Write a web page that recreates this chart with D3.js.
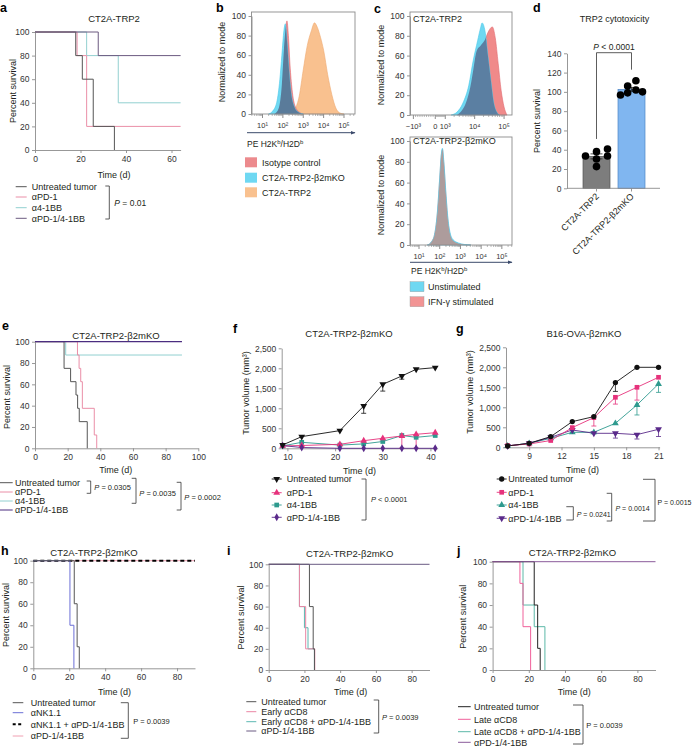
<!DOCTYPE html>
<html><head><meta charset="utf-8">
<script src="https://cdn.jsdelivr.net/npm/d3@7"></script>
<style>
body{margin:0;background:#fff;}
svg{font-family:"Liberation Sans",Arial,sans-serif;}
</style></head><body>
<svg id="chart" width="693" height="747"></svg>
<script>
// ================= DATA =================
const survTicks = [0,20,40,60,80,100];
// Panel a (Kaplan-Meier, CT2A-TRP2)
const aTicksX = [0,20,40,60];
const aUntreated = [[0,100],[17.9,80],[20.8,60],[25.6,20],[34.9,0]];
const aPD1 = [[0,100],[18.5,80],[22.7,20]];
const a41BB = [[0,100],[22.7,80],[36.6,40]];
const aCombo = [[0,100],[27.8,80]];
const treatNames = ["Untreated tumor","αPD-1","α4-1BB","αPD-1/4-1BB"];
// Panel b (flow histogram, log10 of PE intensity, % of mode)
const bTickLabels = ["10¹","10²","10³","10⁴","10⁵"];
const bTickDecades = [1,2,3,4,5];
const bIsotype = [[1.6,0],[1.8,6],[1.95,30],[2.05,65],[2.15,90],[2.2,95],[2.27,80],[2.35,50],[2.45,25],[2.6,8],[2.8,2],[3.0,0]];
const bKO = [[1.3,0],[1.5,3],[1.7,12],[1.85,35],[1.95,60],[2.05,85],[2.12,92],[2.2,75],[2.3,45],[2.4,22],[2.55,8],[2.75,2],[3.0,0]];
const bTRP2 = [[2.4,0],[2.6,5],[2.8,18],[3.0,45],[3.2,70],[3.4,85],[3.55,93],[3.7,88],[3.85,78],[4.0,65],[4.2,40],[4.4,20],[4.6,6],[4.8,1],[5.0,0]];
const bNames = ["Isotype control","CT2A-TRP2-β2mKO","CT2A-TRP2"];
// Panel c
const cTopTickValues = [-1000,0,1000,10000,100000];
const cTopTickLabels = ["−10³","0","10³","10⁴","10⁵"];
const cTopUnstim = [[3.2,0],[3.4,3],[3.6,12],[3.8,30],[3.95,55],[4.1,75],[4.2,88],[4.25,93],[4.35,85],[4.45,60],[4.55,35],[4.65,12],[4.75,3],[4.85,0]];
const cTopIFN = [[3.4,0],[3.55,4],[3.7,12],[3.85,28],[3.95,45],[4.07,65],[4.2,70],[4.35,76],[4.48,85],[4.6,89],[4.7,78],[4.8,52],[4.9,25],[5.0,8],[5.1,0]];
const cBotTickLabels = ["10¹","10²","10³","10⁴","10⁵"];
const cBotTickDecades = [1,2,3,4,5];
const cBotUnstim = [[1.4,0],[1.6,3],[1.75,10],[1.9,35],[2.0,65],[2.08,88],[2.13,93],[2.2,80],[2.3,50],[2.4,25],[2.5,12],[2.65,5],[2.9,2],[3.2,0.5],[3.5,0]];
const cBotIFN = [[1.4,0],[1.6,3],[1.75,10],[1.9,34],[2.0,64],[2.08,87],[2.13,92],[2.2,78],[2.3,48],[2.4,23],[2.5,10],[2.65,4],[2.9,1.5],[3.2,0.3],[3.5,0]];
const cNames = ["Unstimulated","IFN-γ stimulated"];
// Panel d
const dGroups = ["CT2A-TRP2","CT2A-TRP2-β2mKO"];
const dMeans = [33.1,102.6];
const dSEM = [2.6,2.0];
const dPoints1 = [33.5,38,40.8,33.5,30.4,22.5];
const dPoints2 = [96.8,106,111.6,100,99,102];
const dTicks = [0,20,40,60,80,100,120,140];
// Panel e
const eTicksX = [0,20,40,60,80,100];
const eUntreated = [[0,100],[17.8,75],[21.8,62.5],[25.1,50],[26.1,37.5],[27.1,25],[32,0]];
const ePD1 = [[0,100],[26,87.5],[27,75],[28,62.5],[29,37.5],[36.3,12.5],[37.8,0]];
const e41BB = [[0,100],[18.8,87.5]];
const eCombo = [[0,100]];
// Panel f (tumour volume, mm3)
const fDays = [9,13,21,26,30,34,37,41];
const fUntreated = [83,292,442,1058,1600,1808,1975,2017];
const fUntreatedErr = [0,0,0,183,170,80,0,0];
const fPD1 = [60,70,100,190,250,308,350,390];
const fPD1Err = [0,0,0,0,0,300,340,0];
const f41BB = [60,150,80,110,170,320,275,320];
const f41BBErr = [0,0,0,0,0,40,0,0];
const fCombo = [67,20,0,0,0,0,0,0];
const fTicksX = [10,20,30,40];
const volTicks = [0,500,1000,1500,2000,2500];
// Panel g
const gDays = [7,9,11,13,15,17,19,21];
const gUntreated = [33,100,267,642,767,1617,2000,2000];
const gUntreatedErr = [0,0,0,0,0,220,0,0];
const gPD1 = [40,83,170,492,742,1250,1500,1750];
const gPD1Err = [0,0,0,60,210,170,320,0];
const g41BB = [33,100,225,375,375,600,1058,1583];
const g41BBErr = [0,0,0,0,0,0,250,210];
const gCombo = [33,100,250,433,350,350,317,450];
const gComboErr = [0,0,0,0,0,120,110,180];
const gTicksX = [9,12,15,18,21];
// Panel h
const kmTicks90 = [0,20,40,60,80];
const hUntreated = [[0,100],[22.8,60],[24.4,20],[25.6,0]];
const hNK = [[0,100],[20.4,40],[22.6,0]];
const hNKCombo = [[0,100]];
const hCombo = [[0,100]];
const hNames = ["Untreated tumor","αNK1.1","αNK1.1 + αPD-1/4-1BB","αPD-1/4-1BB"];
// Panel i
const iUntreated = [[0,100],[22.8,60],[24.9,20],[25.6,0]];
const iEarlyCD8 = [[0,100],[17.2,60],[20.7,20],[25.8,0]];
const iEarlyCD8Combo = [[0,100],[17.2,60],[20,40],[22,20],[25.6,0]];
const iCombo = [[0,100]];
const iNames = ["Untreated tumor","Early αCD8","Early αCD8 + αPD-1/4-1BB","αPD-1/4-1BB"];
// Panel j
const jUntreated = [[0,100],[23,60],[24.9,20],[26.3,0]];
const jLateCD8 = [[0,100],[15.1,80],[16.8,40],[21,0]];
const jLateCD8Combo = [[0,100],[16.8,60],[23,40],[28.9,0]];
const jCombo = [[0,100]];
const jNames = ["Untreated tumor","Late αCD8","Late αCD8 + αPD-1/4-1BB","αPD-1/4-1BB"];

// ================= HELPERS =================
const svg = d3.select('#chart');
const TXT = '#231f20', AX = '#8c8c8c';
const defs = svg.append('defs');
defs.append('marker').attr('id','arr').attr('viewBox','0 0 10 10')
  .attr('refX',9).attr('refY',5).attr('markerWidth',5).attr('markerHeight',5).attr('orient','auto')
  .append('path').attr('d','M0,1 L10,5 L0,9 Z').attr('fill','#3b4a6b');

function text(x,y,s,o={}){
  const t=svg.append('text').attr('x',x).attr('y',y).text(s)
    .style('font-size',(o.fs||9)+'px').attr('text-anchor',o.anchor||'start').attr('fill',o.fill||TXT);
  if(o.bold) t.style('font-weight','bold');
  if(o.rot!=null) t.attr('transform',`rotate(${o.rot},${x},${y})`);
  return t;
}
function pText(x,y,rest,fs,italic=true){
  const t=svg.append('text').attr('x',x).attr('y',y).style('font-size',fs+'px').attr('fill',TXT);
  t.append('tspan').text('P').style('font-style',italic?'italic':'normal');
  t.append('tspan').text(rest);
  return t;
}
function panelLetter(x,y,s){ text(x,y,s,{fs:12.5,bold:true,fill:'#000'}); }
function styleAx(g,col){
  g.select('.domain').attr('stroke',col||AX).attr('stroke-width',0.9);
  g.selectAll('.tick line').attr('stroke',col||AX).attr('stroke-width',0.9);
  g.selectAll('.tick text').attr('fill','#333').style('font-size','8.5px');
}
const fmtC = d3.format(',');
function axB(scale,y,ticks,col){
  return svg.append('g').attr('transform',`translate(0,${y})`)
    .call(d3.axisBottom(scale).tickValues(ticks).tickSize(3).tickSizeOuter(0).tickPadding(2.5).tickFormat(d=>fmtC(d)))
    .call(g=>styleAx(g,col));
}
function axL(scale,x,ticks,col){
  return svg.append('g').attr('transform',`translate(${x},0)`)
    .call(d3.axisLeft(scale).tickValues(ticks).tickSize(3).tickSizeOuter(0).tickPadding(2.5).tickFormat(d=>fmtC(d)))
    .call(g=>styleAx(g,col));
}
function bracket(x,y0,y1,arm){
  svg.append('path').attr('d',`M${x-arm},${y0}H${x}V${y1}H${x-arm}`).attr('fill','none').attr('stroke','#333').attr('stroke-width',0.8);
}
function km(cfg){
  const x=d3.scaleLinear().domain(cfg.xd).range(cfg.xr);
  const y=d3.scaleLinear().domain([0,100]).range(cfg.yr);
  axB(x,cfg.yr[0],cfg.xticks);
  axL(y,cfg.xr[0],survTicks);
  const line=d3.line().x(d=>x(d[0])).y(d=>y(d[1])).curve(d3.curveStepAfter);
  cfg.series.forEach(s=>{
    const last=s.d[s.d.length-1];
    const pts = last[1]>0 ? s.d.concat([[cfg.end,last[1]]]) : s.d;
    svg.append('path').attr('d',line(pts)).attr('fill','none').attr('stroke',s.c)
      .attr('stroke-width',s.w||1).attr('stroke-dasharray',s.dash||null);
  });
}
function lineLegend(x0,x1,tx,rows,names,colors,fs,dashes,widths){
  names.forEach((n,i)=>{
    svg.append('line').attr('x1',x0).attr('x2',x1).attr('y1',rows[i]).attr('y2',rows[i])
      .attr('stroke',colors[i]).attr('stroke-width',(widths&&widths[i])||1).attr('stroke-dasharray',(dashes&&dashes[i])||null);
    text(tx,rows[i]+3.2,n,{fs:fs||9});
  });
}
function yLabel(x,y,s,fs){ text(x,y,s,{fs:fs||9,anchor:'middle',rot:-90}); }
function supLabel(x,y){
  const t=svg.append('text').attr('x',x).attr('y',y).style('font-size','8.5px').attr('fill',TXT);
  t.append('tspan').text('PE H2K'); t.append('tspan').text('b').attr('dy',-3).style('font-size','6px');
  t.append('tspan').text('/H2D').attr('dy',3); t.append('tspan').text('b').attr('dy',-3).style('font-size','6px');
}
// overlapping histograms: each drawn, then the intersection drawn in a blend colour
let clipN=0;
function histoPair(area, under, over, cU, cO, cMix, sU, sO){
  svg.append('path').attr('d',area(under)).attr('fill',cU).attr('stroke',sU).attr('stroke-width',0.6);
  svg.append('path').attr('d',area(over)).attr('fill',cO).attr('stroke',sO).attr('stroke-width',0.6);
  const id='clip'+(clipN++);
  defs.append('clipPath').attr('id',id).append('path').attr('d',area(over));
  svg.append('path').attr('d',area(under)).attr('fill',cMix).attr('clip-path',`url(#${id})`);
}

// ================= PANEL a =================
panelLetter(0,12,'a');
text(114,22,'CT2A-TRP2',{fs:9.5,anchor:'middle'});
const aCol = ['#555555','#ea8ea7','#92d0d0','#6c5a80'];
km({xd:[0,64],xr:[35,180.6],yr:[150,32],xticks:aTicksX,end:64,
  series:[{d:a41BB,c:aCol[2]},{d:aPD1,c:aCol[1]},{d:aUntreated,c:aCol[0]},{d:aCombo,c:aCol[3]}]});
yLabel(16,91,'Percent survival');
text(114,178,'Time (d)',{anchor:'middle'});
lineLegend(15.7,26.7,31.7,[186.7,197,207.7,218.3],treatNames,aCol);
bracket(109.3,186,219,4);
pText(114.3,206,' = 0.01',8.5);

// ================= PANEL b =================
panelLetter(216,12,'b');
(function(){
  const x=d3.scaleLinear().domain([0.46,5.54]).range([251.5,355]);
  const y=d3.scaleLinear().domain([0,100]).range([114,16]);
  const area=d3.area().x(d=>x(d[0])).y0(y(0)).y1(d=>y(d[1])).curve(d3.curveMonotoneX);
  svg.append('path').attr('d',area(bTRP2)).attr('fill','#f9c18f').attr('stroke','#eeaa70').attr('stroke-width',0.6);
  histoPair(area,bIsotype,bKO,'#ec8a8d','#6fd8f2','#5a7b9a','#e06a70','#4cc8ea');
  svg.append('rect').attr('x',251.5).attr('y',12).attr('width',103.5).attr('height',102).attr('fill','none').attr('stroke',AX).attr('stroke-width',0.9);
  axL(y,251.5,survTicks);
  bTickDecades.forEach((d,i)=>{
    svg.append('line').attr('x1',x(d)).attr('x2',x(d)).attr('y1',114).attr('y2',118).attr('stroke',AX);
    text(x(d),128,bTickLabels[i],{fs:7.5,anchor:'middle',fill:'#333'});
  });
  for(let d=0; d<6; d++) for(let k=2;k<10;k++){ const v=d+Math.log10(k); if(v>0.46&&v<5.54)
    svg.append('line').attr('x1',x(v)).attr('x2',x(v)).attr('y1',114).attr('y2',116).attr('stroke',AX).attr('stroke-width',0.6); }
  svg.append('line').attr('x1',247).attr('x2',355).attr('y1',132.7).attr('y2',132.7).attr('stroke','#3b4a6b').attr('stroke-width',1).attr('marker-end','url(#arr)');
  supLabel(247,146.5);
  yLabel(225,62,'Normalized to mode');
  const sw=['#ec8a8d','#6fd8f2','#f9c18f'];
  [162.3,177.7,192.3].forEach((yy,i)=>{
    svg.append('rect').attr('x',245).attr('y',yy-5).attr('width',12).attr('height',10).attr('fill',sw[i]);
    text(262,yy+3.2,bNames[i],{fs:9});
  });
})();

// ================= PANEL c =================
panelLetter(374,13,'c');
(function(){
  const tf = v => v>=1000 ? Math.log10(v) : (v>=0 ? 2.66+ (v/1000)*(3-2.66) : 2.66 + (v/1000)*(2.66-1.915));
  const x=d3.scaleLinear().domain([1.8,5.27]).range([410,512]);
  const y=d3.scaleLinear().domain([0,100]).range([115,16]);
  const area=d3.area().x(d=>x(d[0])).y0(y(0)).y1(d=>y(d[1])).curve(d3.curveMonotoneX);
  histoPair(area,cTopIFN,cTopUnstim,'#f08a8a','#6fd8f2','#5b7fa2','#e06a70','#4cc8ea');
  svg.append('rect').attr('x',410).attr('y',12).attr('width',102).attr('height',103).attr('fill','none').attr('stroke',AX).attr('stroke-width',0.9);
  axL(y,410,survTicks);
  cTopTickValues.forEach((v,i)=>{
    const xx=x(tf(v));
    svg.append('line').attr('x1',xx).attr('x2',xx).attr('y1',115).attr('y2',119).attr('stroke',AX);
    text(xx,129,cTopTickLabels[i],{fs:7.5,anchor:'middle',fill:'#333'});
  });
  for(let d=3; d<6; d++) for(let k=2;k<10;k++){ const v=d+Math.log10(k); if(v<5.27)
    svg.append('line').attr('x1',x(v)).attr('x2',x(v)).attr('y1',115).attr('y2',117).attr('stroke',AX).attr('stroke-width',0.6); }
  for(let k=-9;k<=9;k++){ if(k===0) continue; const xx=x(tf(k*100));
    svg.append('line').attr('x1',xx).attr('x2',xx).attr('y1',115).attr('y2',117).attr('stroke',AX).attr('stroke-width',0.6); }
  text(413,22,'CT2A-TRP2',{fs:9});
  yLabel(384,65,'Normalized to mode');

  // bottom
  const xb=d3.scaleLinear().domain([0.565,5.49]).range([410,512]);
  const yb=d3.scaleLinear().domain([0,100]).range([245,141]);
  const areab=d3.area().x(d=>xb(d[0])).y0(yb(0)).y1(d=>yb(d[1])).curve(d3.curveMonotoneX);
  histoPair(areab,cBotIFN,cBotUnstim,'#ef9a98','#6fd8f2','#ad9c9c','#c88a88','#4cc8ea');
  svg.append('rect').attr('x',410).attr('y',137).attr('width',102).attr('height',108).attr('fill','none').attr('stroke',AX).attr('stroke-width',0.9);
  axL(yb,410,survTicks);
  cBotTickDecades.forEach((d,i)=>{
    svg.append('line').attr('x1',xb(d)).attr('x2',xb(d)).attr('y1',245).attr('y2',249).attr('stroke',AX);
    text(xb(d),259,cBotTickLabels[i],{fs:7.5,anchor:'middle',fill:'#333'});
  });
  for(let d=0; d<6; d++) for(let k=2;k<10;k++){ const v=d+Math.log10(k); if(v>0.565&&v<5.49)
    svg.append('line').attr('x1',xb(v)).attr('x2',xb(v)).attr('y1',245).attr('y2',247).attr('stroke',AX).attr('stroke-width',0.6); }
  text(413,144,'CT2A-TRP2-β2mKO',{fs:9});
  yLabel(384,195,'Normalized to mode');
  svg.append('line').attr('x1',410).attr('x2',512).attr('y1',262.3).attr('y2',262.3).attr('stroke','#3b4a6b').attr('stroke-width',1).attr('marker-end','url(#arr)');
  supLabel(411,274);
  const sw=['#6fd8f2','#f29494'];
  [286.7,301.7].forEach((yy,i)=>{
    svg.append('rect').attr('x',410).attr('y',yy-5).attr('width',14).attr('height',10).attr('fill',sw[i]).attr('stroke','#999').attr('stroke-width',0.4);
    text(428,yy+3.2,cNames[i],{fs:9});
  });
})();

// ================= PANEL d =================
panelLetter(533,12,'d');
(function(){
  text(614.5,22,'TRP2 cytotoxicity',{fs:9,anchor:'middle'});
  const x=d3.scalePoint().domain(dGroups).range([596.5,631.5]);
  const y=d3.scaleLinear().domain([0,140]).range([188.3,53.3]);
  const bw=27;
  const cols=['#7d7d7d','#80b6f0'], strokes=['#555','#4f86c6'];
  dGroups.forEach((gname,i)=>{
    svg.append('rect').attr('x',x(gname)-bw/2).attr('y',y(dMeans[i])).attr('width',bw).attr('height',y(0)-y(dMeans[i]))
      .attr('fill',cols[i]).attr('stroke',strokes[i]).attr('stroke-width',0.7);
  });
  svg.append('line').attr('x1',567).attr('x2',660).attr('y1',188.3).attr('y2',188.3).attr('stroke',AX).attr('stroke-width',0.9);
  dGroups.forEach(gname=>svg.append('line').attr('x1',x(gname)).attr('x2',x(gname)).attr('y1',188.3).attr('y2',191.5).attr('stroke',AX).attr('stroke-width',0.9));
  axL(y,567,dTicks);
  dGroups.forEach((gname,i)=>{
    const cx=x(gname);
    svg.append('line').attr('x1',cx).attr('x2',cx).attr('y1',y(dMeans[i]-dSEM[i])).attr('y2',y(dMeans[i]+dSEM[i])).attr('stroke','#222').attr('stroke-width',0.8);
    [dMeans[i]-dSEM[i],dMeans[i]+dSEM[i]].forEach(v=>svg.append('line').attr('x1',cx-6).attr('x2',cx+6).attr('y1',y(v)).attr('y2',y(v)).attr('stroke','#222').attr('stroke-width',0.8));
  });
  const jit1=[-1,0,1,1,0,0], jit2=[-1,-0.35,0.4,1,-0.35,0.4];
  [[dPoints1,jit1],[dPoints2,jit2]].forEach(([pts,jit],i)=>{
    pts.forEach((v,k)=>svg.append('circle').attr('cx',x(dGroups[i])+jit[k]*11).attr('cy',y(v)).attr('r',3.8).attr('fill','#000'));
  });
  svg.append('path').attr('d',`M${x(dGroups[0])},${y(dPoints1[2])-10}V52.7H${x(dGroups[1])}V${y(dPoints2[2])-11}`).attr('fill','none').attr('stroke','#333').attr('stroke-width',0.8);
  pText(614,50,' < 0.0001',8.5).attr('text-anchor','middle');
  yLabel(540,121,'Percent survival');
  dGroups.forEach(gname=>text(x(gname)+3,197,gname,{fs:9,anchor:'end',rot:-45}));
})();

// ================= PANEL e =================
panelLetter(2,330,'e');
text(116,339,'CT2A-TRP2-β2mKO',{fs:9.5,anchor:'middle'});
const eCol=['#555555','#ea8ea7','#92d0d0','#4b2d80'];
km({xd:[0,100],xr:[35,198.3],yr:[448.3,341.7],xticks:eTicksX,end:90,
  series:[{d:e41BB,c:eCol[2]},{d:ePD1,c:eCol[1]},{d:eUntreated,c:eCol[0]},{d:eCombo,c:eCol[3],w:1.3}]});
yLabel(9.5,397,'Percent survival');
text(115.8,472.5,'Time (d)',{anchor:'middle'});
lineLegend(0,12.7,15,[482.7,492,501,510],treatNames,eCol,9);
bracket(90.7,481,493.3,4); pText(94.3,489.5,' = 0.0305',7.5);
bracket(136,478.3,503.3,4.3); pText(139.3,496,' = 0.0035',7.5);
bracket(181,482.3,510,4.3); pText(184.3,499.5,' = 0.0002',7.5);

// ================= PANELS f & g =================
function drawSym(cx,cy,sym,c){
  const types={circle:d3.symbolCircle,square:d3.symbolSquare,tri:d3.symbolTriangle,triDown:d3.symbolTriangle,diamond:d3.symbolDiamond};
  const size={circle:22,square:22,tri:20,triDown:20,diamond:18}[sym];
  svg.append('path').attr('d',d3.symbol().type(types[sym]).size(size)())
    .attr('transform',`translate(${cx},${cy})`+(sym==='triDown'?' rotate(180)':'')).attr('fill',c);
}
function growth(cfg){
  const x=d3.scaleLinear().domain(cfg.xd).range(cfg.xr);
  const y=d3.scaleLinear().domain([0,2500]).range(cfg.yr);
  axB(x,cfg.yr[0],cfg.xticks);
  axL(y,cfg.xr[0],volTicks);
  const line=d3.line().x(d=>x(d[0])).y(d=>y(d[1]));
  cfg.series.forEach(s=>{
    const pts=cfg.days.map((d,i)=>[d,s.v[i]]);
    if(s.err) cfg.days.forEach((d,i)=>{ if(s.err[i]>0){
      const lo=Math.max(0,s.v[i]-s.err[i]);
      svg.append('line').attr('x1',x(d)).attr('x2',x(d)).attr('y1',y(s.v[i])).attr('y2',y(lo)).attr('stroke',s.c).attr('stroke-width',0.8);
      svg.append('line').attr('x1',x(d)-2.5).attr('x2',x(d)+2.5).attr('y1',y(lo)).attr('y2',y(lo)).attr('stroke',s.c).attr('stroke-width',0.8);
    }});
    svg.append('path').attr('d',line(pts)).attr('fill','none').attr('stroke',s.c).attr('stroke-width',0.9);
  });
  cfg.series.forEach(s=>{
    cfg.days.forEach((d,i)=>drawSym(x(d),y(s.v[i]),s.sym,s.c));
  });
}
function symLegend(x0,x1,tx,rows,names,colors,syms){
  names.forEach((n,i)=>{
    svg.append('line').attr('x1',x0).attr('x2',x1).attr('y1',rows[i]).attr('y2',rows[i]).attr('stroke',colors[i]).attr('stroke-width',0.9);
    drawSym((x0+x1)/2,rows[i],syms[i],colors[i]);
    text(tx,rows[i]+3.2,n,{fs:9});
  });
}
panelLetter(233,333,'f');
text(349,336.5,'CT2A-TRP2-β2mKO',{fs:9.5,anchor:'middle'});
const fgCol=['#111111','#e6327c','#2e9a8e','#5a2a8a'];
growth({xd:[8.8,41.5],xr:[281.7,437.6],yr:[448.3,348.3],xticks:fTicksX,days:fDays,
  series:[{v:f41BB,err:f41BBErr,c:fgCol[2],sym:'square'},{v:fPD1,err:fPD1Err,c:fgCol[1],sym:'tri'},
          {v:fCombo,c:fgCol[3],sym:'diamond'},{v:fUntreated,err:fUntreatedErr,c:fgCol[0],sym:'triDown'}]});
yLabel(249,393,'Tumor volume (mm³)');
text(359.5,473.5,'Time (d)',{anchor:'middle'});
symLegend(271.7,281.7,286.7,[479,492.7,505,517.3],treatNames,fgCol,['triDown','tri','square','diamond']);
bracket(366,479,520,4.5); pText(371,502,' < 0.0001',7.5);

panelLetter(456,333,'g');
text(584,336.5,'B16-OVA-β2mKO',{fs:9.5,anchor:'middle'});
growth({xd:[6.85,21.1],xr:[506,659.6],yr:[447.3,347.3],xticks:gTicksX,days:gDays,
  series:[{v:g41BB,err:g41BBErr,c:fgCol[2],sym:'tri'},{v:gCombo,err:gComboErr,c:fgCol[3],sym:'triDown'},
          {v:gPD1,err:gPD1Err,c:fgCol[1],sym:'square'},{v:gUntreated,err:gUntreatedErr,c:fgCol[0],sym:'circle'}]});
yLabel(473,392,'Tumor volume (mm³)');
text(582.5,472.5,'Time (d)',{anchor:'middle'});
symLegend(496.7,506.7,508.3,[479,492.3,505,518.3],treatNames,fgCol,['circle','square','tri','triDown']);
bracket(573.3,506.7,520,7); pText(576.7,517,' = 0.0241',7);
bracket(611.7,493.3,521,5); pText(615.5,510.7,' = 0.0014',7);
bracket(655,479.3,521,12); pText(657.5,504.7,' = 0.0015',7,false);

// ================= PANEL h =================
panelLetter(1,555,'h');
text(94,556,'CT2A-TRP2-β2mKO',{fs:9.5,anchor:'middle'});
const hCol=['#555555','#6b6fd6','#000000','#f0a0b2'];
km({xd:[0,90],xr:[33.3,195],yr:[668.3,560.7],xticks:kmTicks90,end:90,
  series:[{d:hCombo,c:hCol[3],w:1},{d:hNKCombo,c:hCol[2],w:2,dash:'4,3'},{d:hNK,c:hCol[1]},{d:hUntreated,c:hCol[0]}]});
yLabel(8.5,615,'Percent survival');
text(114.5,695,'Time (d)',{anchor:'middle'});
lineLegend(12.7,23.3,30.7,[702.7,712.7,724.3,736],hNames,hCol,9,[null,null,'3,2.5',null],[1,1,2,1]);
bracket(128.3,702.7,738.3,7.5); pText(133.3,724,' = 0.0039',7.5,false);

// ================= PANEL i =================
panelLetter(227,555,'i');
text(349.7,557,'CT2A-TRP2-β2mKO',{fs:9.5,anchor:'middle'});
const iCol=['#555555','#ea86a4','#5cb8b2','#6a5a82'];
km({xd:[0,90],xr:[268.7,429.5],yr:[670,564.3],xticks:kmTicks90,end:90,
  series:[{d:iEarlyCD8Combo,c:iCol[2]},{d:iEarlyCD8,c:iCol[1]},{d:iUntreated,c:iCol[0]},{d:iCombo,c:iCol[3]}]});
yLabel(244,617.5,'Percent survival');
text(350.7,695,'Time (d)',{anchor:'middle'});
lineLegend(246.3,256.3,261.3,[701.7,711.7,721.7,731],iNames,iCol,9);
bracket(378.7,700,733,5); pText(382,720,' = 0.0039',7.5);

// ================= PANEL j =================
panelLetter(457,555,'j');
text(572.5,556,'CT2A-TRP2-β2mKO',{fs:9.5,anchor:'middle'});
const jCol=['#222222','#f0609a','#5cb8a8','#8a5a9a'];
km({xd:[0,90],xr:[492.6,655.5],yr:[670,561.7],xticks:kmTicks90,end:90,
  series:[{d:jLateCD8Combo,c:jCol[2]},{d:jLateCD8,c:jCol[1]},{d:jUntreated,c:jCol[0]},{d:jCombo,c:jCol[3]}]});
yLabel(466.5,616.7,'Percent survival');
text(574.3,695,'Time (d)',{anchor:'middle'});
lineLegend(458,470.7,474,[706.7,719.3,731.7,742.3],jNames,jCol,9);
bracket(583,705,744,10); pText(586.3,728,' = 0.0039',7.5,false);
</script>
</body></html>
